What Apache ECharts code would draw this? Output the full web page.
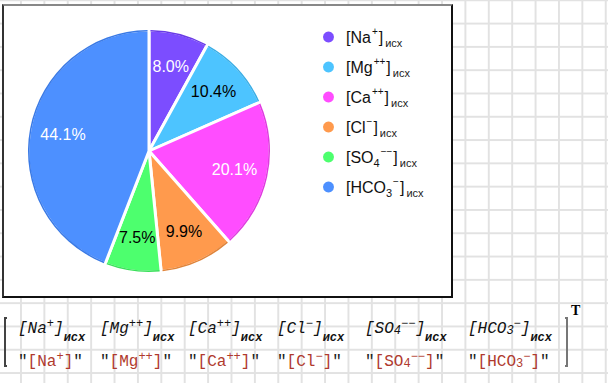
<!DOCTYPE html>
<html><head><meta charset="utf-8">
<script src="https://cdn.jsdelivr.net/npm/echarts/dist/echarts.min.js"></script>
<style>
html,body{margin:0;padding:0;}
body{width:608px;height:383px;overflow:hidden;position:relative;background-color:#fff;
 background-image:linear-gradient(to right,#e2e2e2 1.5px,transparent 1.5px),linear-gradient(to bottom,#e2e2e2 1.5px,transparent 1.5px);
 background-size:23.4px 100%,100% 23.3px;
 background-position:-3.4px 0,0 -0.7px;}
#frame{position:absolute;left:2px;top:4px;width:451px;height:294px;box-sizing:border-box;background:#fff;
 border-top:2px solid #888;border-left:2px solid #333;border-right:2px solid #111;border-bottom:2px solid #111;}
#chart{position:absolute;left:0;top:0;width:455px;height:300px;}
.cell{position:absolute;font-family:'Liberation Mono','Courier New',monospace;font-size:16px;line-height:16px;white-space:nowrap;}
.top{font-style:italic;color:#111;}
.bot{color:#b03a2e;}
.q{color:#222;}
.sp{font-size:12px;vertical-align:6px;}
.ix{font-size:12px;vertical-align:-1px;}
.isx{font-size:12px;font-weight:bold;vertical-align:-8px;}
.br{position:absolute;width:3px;height:50px;box-sizing:border-box;}
#lb{left:4px;top:317px;border:2px solid #444;border-right:none;}
#rb{left:565px;top:317px;border:2px solid #777;border-left:none;}
#T{position:absolute;left:571px;top:304px;font-family:'Liberation Serif','Times New Roman',serif;font-size:14px;line-height:14px;color:#000;font-weight:600;}
</style></head>
<body>
<div id="frame"></div>
<div id="chart"></div>
<div id="matrix"></div>
<div class="br" id="lb"></div>
<div class="br" id="rb"></div>
<div id="T">T</div>
<script>
// ---- data ----
const ionBase = ['Na', 'Mg', 'Ca', 'Cl', 'SO', 'HCO'];
const ionIndex = ['', '', '', '', '4', '3'];
const ionCharge = ['+', '++', '++', '−', '−−', '−'];
const subscriptLabel = 'исх';
const shareValues = [8.0, 10.4, 20.1, 9.9, 7.5, 44.1];
// ---- styles ----
const sliceColors = ['#7c4dff', '#4dc4ff', '#ff4dff', '#ff9a4d', '#4dff6e', '#4d90ff'];
const rimColors = ['#6a3be6', '#3aaee6', '#e03ae0', '#e0843a', '#3ae05a', '#3a7ae6'];
const labelColors = ['#fff', '#000', '#fff', '#000', '#000', '#fff'];
const matrixColX = [18, 100, 188, 277, 365, 468];

const names = ionBase.map((b, i) => '[' + b + ionIndex[i] + ionCharge[i] + ']');

const chart = echarts.init(document.getElementById('chart'), null, {renderer: 'svg'});
const mkData = (colorArr, extra) => shareValues.map((v, i) => Object.assign({
  name: names[i], value: v, itemStyle: {color: colorArr[i]}
}, extra ? extra(i) : {}));

const F = 'Liberation Sans, Arial, sans-serif';
chart.setOption({
  animation: false,
  backgroundColor: 'transparent',
  legend: {
    orient: 'vertical', left: 316, top: 21, itemWidth: 13, itemHeight: 13, itemGap: 8,
    icon: 'circle', data: names, selectedMode: false,
    formatter: function (name) {
      const i = names.indexOf(name);
      return '{b|[' + ionBase[i] + '}' + (ionIndex[i] ? '{ix|' + ionIndex[i] + '}' : '') +
        '{sup|' + ionCharge[i] + '}{b|]}{sub|' + subscriptLabel + '}';
    },
    textStyle: {
      padding: [0, 0, 0, 6],
      rich: {
        b: {fontSize: 16, fontFamily: F, color: '#111', lineHeight: 22},
        ix: {fontSize: 11, fontFamily: F, color: '#111', lineHeight: 13, verticalAlign: 'bottom'},
        sup: {fontSize: 10, fontFamily: F, color: '#111', lineHeight: 13, verticalAlign: 'top', padding: [0, 1, 0, 1]},
        sub: {fontSize: 11, fontFamily: F, color: '#222', lineHeight: 11, verticalAlign: 'bottom', padding: [0, 0, 0, 2]}
      }
    }
  },
  series: [
    {
      type: 'pie', center: [149, 151], radius: 121, startAngle: 90, clockwise: true,
      silent: true, label: {show: false}, labelLine: {show: false},
      itemStyle: {borderColor: '#fff', borderWidth: 3},
      data: mkData(sliceColors), z: 1
    },
    {
      type: 'pie', center: [149, 151], radius: [119.5, 121], startAngle: 90, clockwise: true,
      padAngle: 1.4, silent: true, label: {show: false}, labelLine: {show: false},
      data: mkData(rimColors), z: 2
    },
    {
      type: 'pie', center: [149, 151], radius: 169, startAngle: 90, clockwise: true,
      silent: true, labelLine: {show: false},
      data: mkData(sliceColors.map(() => 'rgba(0,0,0,0)'), i => ({label: {color: labelColors[i]}})),
      label: {
        show: true, position: 'inside', fontSize: 16, fontFamily: F,
        formatter: p => p.value.toFixed(1) + '%'
      },
      z: 3
    }
  ]
});

// ---- matrix below chart ----
const m = document.getElementById('matrix');
names.forEach((n, i) => {
  const top = document.createElement('div');
  top.className = 'cell top';
  top.style.left = matrixColX[i] + 'px';
  top.style.top = '316px';
  top.innerHTML = '[' + ionBase[i] + (ionIndex[i] ? '<span class="ix">' + ionIndex[i] + '</span>' : '') +
    '<span class="sp">' + ionCharge[i] + '</span>]<span class="isx">' + subscriptLabel + '</span>';
  m.appendChild(top);
  const bot = document.createElement('div');
  bot.className = 'cell bot';
  bot.style.left = matrixColX[i] + 'px';
  bot.style.top = '349px';
  bot.innerHTML = '<span class="q">"</span>[' + ionBase[i] + (ionIndex[i] ? '<span class="ix">' + ionIndex[i] + '</span>' : '') +
    '<span class="sp">' + ionCharge[i] + '</span>]<span class="q">"</span>';
  m.appendChild(bot);
});
</script>
</body></html>
